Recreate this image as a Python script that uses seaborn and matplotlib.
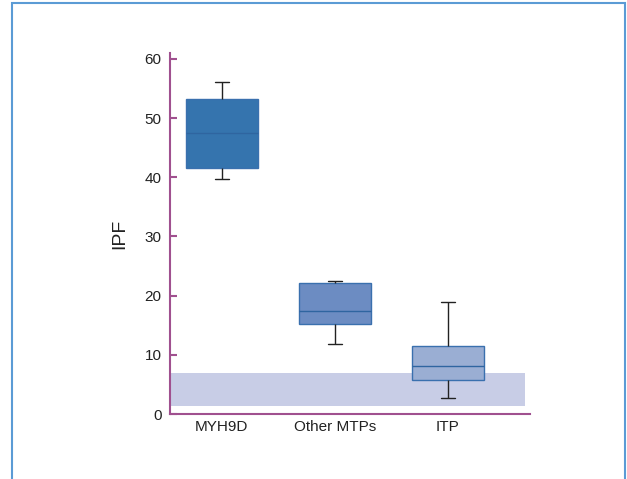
import numpy as np
import pandas as pd
import seaborn as sns
import matplotlib
matplotlib.use("Agg")
import matplotlib.pyplot as plt
from matplotlib.patches import Rectangle

# Data: five-number summaries (min, Q1, median, Q3, max)
categories = ["MYH9D", "Other MTPs", "ITP"]
myh9d = [39.7, 41.5, 47.4, 53.3, 56.1]
other_mtps = [11.9, 15.2, 17.4, 22.1, 22.5]
itp = [2.75, 5.7, 8.1, 11.5, 19.0]
normal_range = [1.4, 6.9]
yticks = [0, 10, 20, 30, 40, 50, 60]
box_colors = ["#3574AE", "#6C8CC2", "#9AAED3"]

df = pd.DataFrame({
    "group": np.repeat(categories, 5),
    "IPF": myh9d + other_mtps + itp,
})

sns.set_style("white")
plt.rcParams["font.family"] = ["Liberation Sans", "DejaVu Sans"]

fig = plt.figure(figsize=(6.27, 4.79), dpi=100)
ax = fig.add_axes([170/627, 65/479, 360/627, 361/479])

xlo, xhi = -0.46, 2.73
ax.fill_between([xlo, 2.69], normal_range[0], normal_range[1],
                color="#C8CDE6", lw=0, zorder=0)

sns.boxplot(data=df, x="group", y="IPF", hue="group", order=categories,
            palette=box_colors, saturation=1, width=0.64, whis=(0, 100),
            linecolor="#3A70AE", linewidth=1.0, legend=False, ax=ax,
            whiskerprops=dict(color="#222222", linewidth=1.0),
            capprops=dict(color="#222222", linewidth=1.0),
            medianprops=dict(color="#2F65A0", linewidth=1.0),
            capwidths=0.125, showfliers=False)

ax.set_xlim(xlo, xhi)
ax.set_ylim(0, 61)
ax.set_yticks(yticks)
ax.set_xlabel("")
ax.set_ylabel("IPF", fontsize=14, color="#222222", labelpad=12)

spine_color = "#A0508F"
for s in ["top", "right"]:
    ax.spines[s].set_visible(False)
for s in ["left", "bottom"]:
    ax.spines[s].set_color(spine_color)
    ax.spines[s].set_linewidth(1.5)

ax.tick_params(axis="y", left=True, direction="in", length=5, width=1.5,
               color=spine_color, labelsize=11, labelcolor="#222222", pad=6)
ax.tick_params(axis="x", bottom=False, length=0, labelsize=11,
               labelcolor="#222222", pad=4)

fig.patches.append(Rectangle((12/627, -0.05), 613/627, 1.05 - 3/479,
                             transform=fig.transFigure, fill=False,
                             edgecolor="#5B9BD5", linewidth=1.5))

fig.savefig("out.png", dpi=100)
